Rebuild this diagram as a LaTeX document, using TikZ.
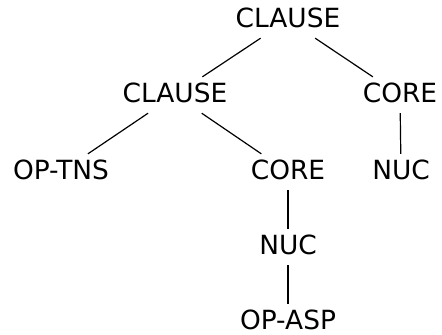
\documentclass[tikz,border=0pt]{standalone}
\usepackage{fontspec}
\setmainfont{DejaVu Sans}
\begin{document}
\begin{tikzpicture}[x=0.5pt,y=-0.5pt,
  lbl/.style={inner xsep=2pt,inner ysep=5.25pt,text height=0.73em,text depth=0pt,
    font=\fontsize{13.2}{16}\selectfont},
  edge/.style={draw=black,line width=0.6pt}]
\useasboundingbox (0,0) rectangle (442,334);
\node[lbl] (c0) at (288,20) {CLAUSE};
\node[lbl] (c1) at (175,95) {CLAUSE};
\node[lbl] (core1) at (400,95) {CORE};
\node[lbl] (tns) at (61,172) {OP-TNS};
\node[lbl] (core2) at (288,172) {CORE};
\node[lbl] (nuc1) at (401,172) {NUC};
\node[lbl] (nuc2) at (288,247) {NUC};
\node[lbl] (asp) at (288,322) {OP-ASP};
\draw[edge] (c0) -- (c1);
\draw[edge] (c0) -- (core1);
\draw[edge] (c1) -- (tns);
\draw[edge] (c1) -- (core2);
\draw[edge] (core1) -- (nuc1);
\draw[edge] (core2) -- (nuc2);
\draw[edge] (nuc2) -- (asp);
\end{tikzpicture}
\end{document}
